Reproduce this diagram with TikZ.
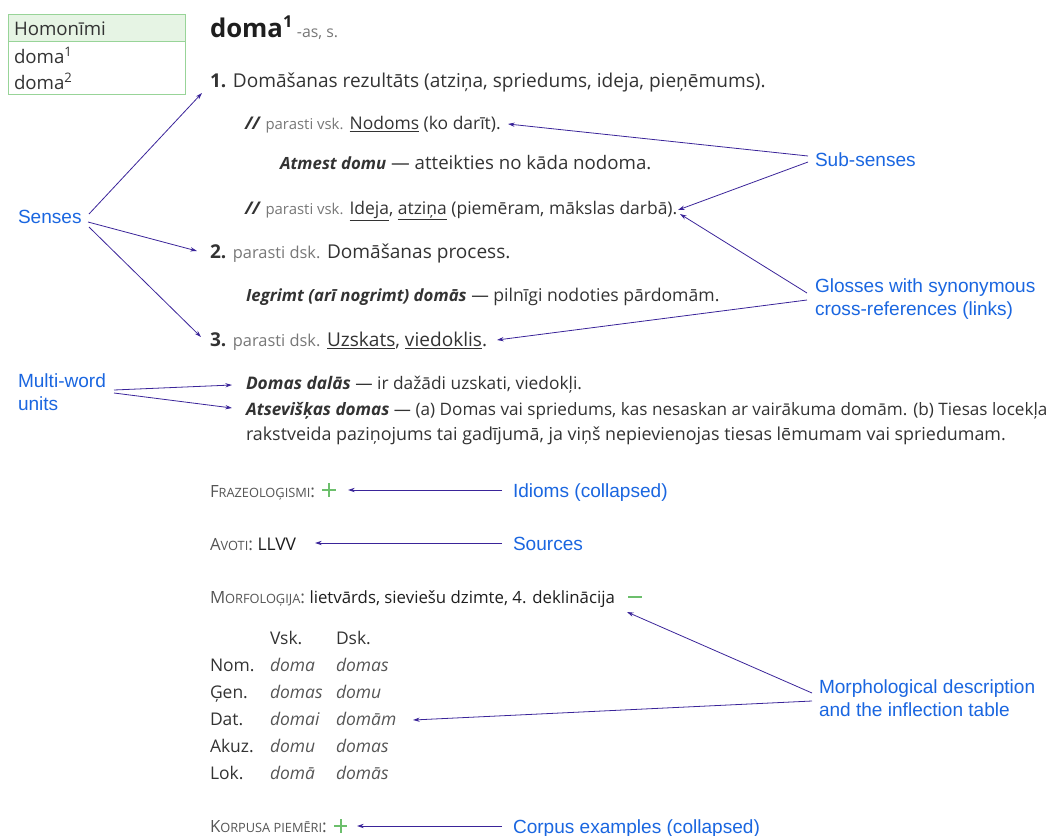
\documentclass[tikz,border=0pt]{standalone}
\usepackage{fontspec}
\setmainfont{Open Sans}
\newfontfamily\lab{Liberation Sans}
\usetikzlibrary{arrows.meta}
\definecolor{txt}{HTML}{333333}
\definecolor{dark}{HTML}{1E1E1E}
\definecolor{gry}{HTML}{777777}
\definecolor{scg}{HTML}{555555}
\definecolor{lblue}{HTML}{1A66E0}
\definecolor{arr}{HTML}{3A2499}
\definecolor{gbord}{HTML}{98D498}
\definecolor{gfill}{HTML}{E6F4E4}
\definecolor{gplus}{HTML}{6CBF6C}
\newcommand\bodysz{\fontsize{13.1}{16}\selectfont}
\newcommand\sensesz{\fontsize{14.3}{17}\selectfont}
\newcommand\exsz{\fontsize{14}{17}\selectfont}
\newcommand\smsz{\fontsize{11.2}{14}\selectfont}
\newcommand\gr[1]{{\smsz\color{gry}#1}}
\newcommand\grs[1]{{\fontsize{12.3}{15}\selectfont\color{gry}#1}}
\newcommand\bi[1]{{\fontsize{12.6}{15}\selectfont\bfseries\itshape #1}}
\newcommand\fsc[2]{{\fontsize{12.6}{15}\selectfont #1}{\fontsize{9.6}{12}\selectfont #2}}
\newcommand\ul[1]{\underline{#1}}
\begin{document}
\begin{tikzpicture}[x=0.75pt,y=-0.75pt,
  t/.style={anchor=base west, inner sep=0pt, outer sep=0pt, text=txt, font=\bodysz},
  sc/.style={t, text=scg},
  val/.style={t, text=scg, font=\bodysz\itshape},
  lbl/.style={anchor=base west, inner sep=0pt, outer sep=0pt, text=lblue,
              font=\lab\fontsize{14.3}{17.25}\selectfont, align=left},
  icon/.style={inner sep=0pt, outer sep=0pt, minimum width=9.8pt, minimum height=9.8pt},
  gline/.style={draw=gplus, line width=1.5pt},
  ar/.style={draw=arr, line width=0.6pt, -{Stealth[length=5pt,width=3.2pt]}},
]
\useasboundingbox (0,0) rectangle (1051,836);

% Homonimi box
\node[draw=gbord, line width=0.8pt, fill=white, anchor=north west, inner sep=0pt,
      minimum width=132.75pt, minimum height=60pt] (hbox) at (8,14) {};
\node[draw=gbord, line width=0.8pt, fill=gfill, anchor=north west, inner sep=0pt,
      minimum width=132.75pt, minimum height=20.25pt] (hhead) at (8,14) {};
\node[t, font=\fontsize{14}{16}\selectfont] (hom) at (14,35) {Homonīmi};
\node[t, font=\fontsize{14}{16}\selectfont] (hd1) at (14,63) {doma\textsuperscript{1}};
\node[t, font=\fontsize{14}{16}\selectfont] (hd2) at (14,89) {doma\textsuperscript{2}};

% Heading
\node[t, text=dark] (head) at (210,37) {{\fontsize{19.3}{22}\selectfont\bfseries doma\raisebox{0.36em}{\fontsize{12.3}{13}\selectfont 1}} {\fontsize{11.9}{13}\selectfont\color{gry}-as, s.}};

% Senses
\node[t, font=\sensesz] (s1) at (210,87) {\textbf{1.} Domāšanas rezultāts (atziņa, spriedums, ideja, pieņēmums).};
\node[t] (ss1) at (245,129) {\textbf{\textit{//}} \gr{parasti vsk.} \ul{Nodoms} (ko darīt).};
\node[t, font=\exsz] (ex1) at (280,169) {\bi{Atmest domu} — atteikties no kāda nodoma.};
\node[t] (ss2) at (245,214) {\textbf{\textit{//}} \gr{parasti vsk.} \ul{Ideja}, \ul{atziņa} (piemēram, mākslas darbā).};
\node[t, font=\sensesz] (s2) at (210,258) {\textbf{2.} \grs{parasti dsk.} Domāšanas process.};
\node[t, font=\fontsize{13.2}{16}\selectfont] (ex2) at (246,301) {\bi{Iegrimt (arī nogrimt) domās} — pilnīgi nodoties pārdomām.};
\node[t, font=\sensesz] (s3) at (210,346) {\textbf{3.} \grs{parasti dsk.} \ul{Uzskats}, \ul{viedoklis}.};

% Multi-word units
\node[t, font=\fontsize{13}{16}\selectfont] (mw1) at (246,389) {\textbf{\textit{Domas dalās}} — ir dažādi uzskati, viedokļi.};
\node[t, font=\fontsize{12.85}{16}\selectfont] (mw2) at (246,415) {\textbf{\textit{Atsevišķas domas}} — (a) Domas vai spriedums, kas nesaskan ar vairākuma domām. (b) Tiesas locekļa};
\node[t, font=\fontsize{13.4}{16}\selectfont] (mw3) at (246,440) {rakstveida paziņojums tai gadījumā, ja viņš nepievienojas tiesas lēmumam vai spriedumam.};

% Sections
\node[sc] (fraz) at (210,497) {\fsc{F}{RAZEOLOĢISMI}:};
\node[icon] (fplus) at (329,490) {};
\draw[gline] (fplus.north) -- (fplus.south) (fplus.west) -- (fplus.east);
\node[sc] (avo) at (210,550) {\fsc{A}{VOTI}: {\color{dark}\bodysz LLVV}};
\node[sc] (morf) at (210,603) {\fsc{M}{ORFOLOĢIJA}: {\color{dark}\fontsize{12.6}{15}\selectfont lietvārds, sieviešu dzimte, 4. deklinācija}};
\node[icon, minimum height=0pt] (mminus) at (635,597) {};
\draw[gline] (mminus.west) -- (mminus.east);

% Table
\node[t] (vsk) at (270,644) {Vsk.};
\node[t] (dsk) at (336,644) {Dsk.};
\node[t] (rnom) at (210,671) {Nom.};
\node[val] (n1) at (270,671) {doma};
\node[val] (n2) at (336,671) {domas};
\node[t] (rgen) at (210,698) {Ģen.};
\node[val] (g1) at (270,698) {domas};
\node[val] (g2) at (336,698) {domu};
\node[t] (rdat) at (210,725) {Dat.};
\node[val] (d1) at (270,725) {domai};
\node[val] (d2) at (336,725) {domām};
\node[t] (rakk) at (210,752) {Akuz.};
\node[val] (a1) at (270,752) {domu};
\node[val] (a2) at (336,752) {domas};
\node[t] (rlok) at (210,779) {Lok.};
\node[val] (l1) at (270,779) {domā};
\node[val] (l2) at (336,779) {domās};

\node[sc] (korp) at (210,832) {\fsc{K}{ORPUSA PIEMĒRI}:};
\node[icon] (kplus) at (340.5,826) {};
\draw[gline] (kplus.north) -- (kplus.south) (kplus.west) -- (kplus.east);

% Labels
\node[lbl] (lsenses) at (18,223) {Senses};
\node[lbl] (lsub) at (815,166) {Sub-senses};
\node[lbl] (lgloss) at (815,315) {Glosses with synonymous\\cross-references (links)};
\node[lbl] (lmw) at (18,410) {Multi-word\\units};
\node[lbl] (lid) at (513,497) {Idioms (collapsed)};
\node[lbl] (lsrc) at (513,550) {Sources};
\node[lbl] (lmorph) at (819,716) {Morphological description\\and the inflection table};
\node[lbl] (lcorp) at (513,833) {Corpus examples (collapsed)};

% Arrow end coordinates
\coordinate (sA) at (89,214);  \coordinate (tS1) at (202,93);
\coordinate (sB) at (88,222);  \coordinate (tS2) at (197,251);
\coordinate (sC) at (89,227);  \coordinate (tS3) at (201,337);
\coordinate (subA) at (808,156); \coordinate (tSub1) at (508,124);
\coordinate (subB) at (808,162); \coordinate (tSub2) at (678,210);
\coordinate (glA) at (807,293); \coordinate (tGl1) at (680,214);
\coordinate (glB) at (807,300); \coordinate (tGl2) at (497,340);
\coordinate (mwA) at (114,390); \coordinate (tMw1) at (232,385);
\coordinate (mwB) at (114,393); \coordinate (tMw2) at (232,408);
\coordinate (idA) at (502,490); \coordinate (tId) at (348,490);
\coordinate (srA) at (502,543); \coordinate (tSr) at (315,543);
\coordinate (moA) at (812,693); \coordinate (tMo1) at (627,612);
\coordinate (moB) at (812,701); \coordinate (tMo2) at (413,720);
\coordinate (coA) at (502,826); \coordinate (tCo) at (357,826);

\draw[ar] (sA) -- (tS1);
\draw[ar] (sB) -- (tS2);
\draw[ar] (sC) -- (tS3);
\draw[ar] (subA) -- (tSub1);
\draw[ar] (subB) -- (tSub2);
\draw[ar] (glA) -- (tGl1);
\draw[ar] (glB) -- (tGl2);
\draw[ar] (mwA) -- (tMw1);
\draw[ar] (mwB) -- (tMw2);
\draw[ar] (idA) -- (tId);
\draw[ar] (srA) -- (tSr);
\draw[ar] (moA) -- (tMo1);
\draw[ar] (moB) -- (tMo2);
\draw[ar] (coA) -- (tCo);
\end{tikzpicture}
\end{document}
